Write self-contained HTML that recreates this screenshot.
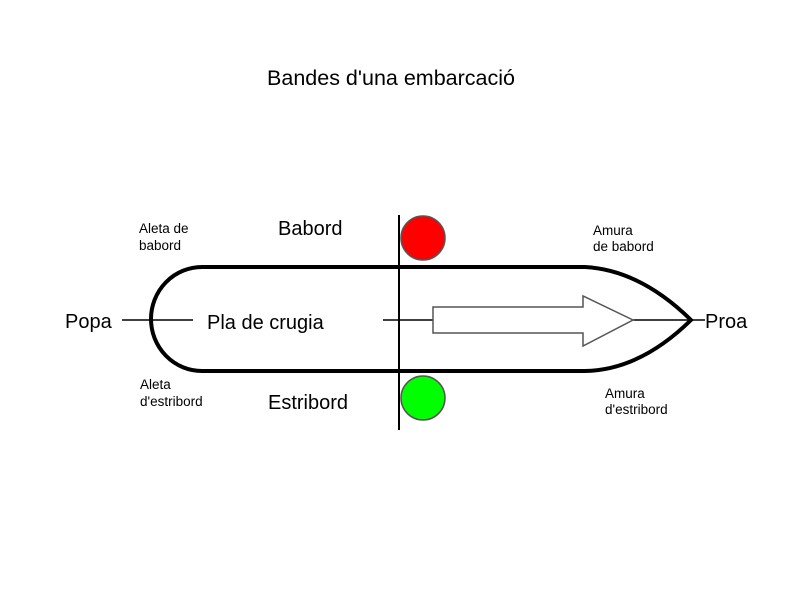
<!DOCTYPE html>
<html><head><style>
body{margin:0;background:#fff}
svg text{font-family:"Liberation Sans",Arial,sans-serif;fill:#000}
</style></head><body>
<svg width="800" height="600" viewBox="0 0 800 600" xmlns="http://www.w3.org/2000/svg">
<rect width="800" height="600" fill="#fff"/>
<text x="391" y="85" font-size="21.5" text-anchor="middle">Bandes d'una embarcació</text>
<path d="M202 267 L585 267 Q640 270 691 320 Q640 370 585 371 L202 371 A51 52 0 0 1 202 267 Z" fill="none" stroke="#000" stroke-width="4"/>
<line x1="399" y1="215" x2="399" y2="430" stroke="#000" stroke-width="2"/>
<circle cx="423" cy="238" r="22" fill="#f00" stroke="#555" stroke-width="1.5"/>
<circle cx="423" cy="398" r="22" fill="#0f0" stroke="#555" stroke-width="1.5"/>
<line x1="122" y1="320" x2="193" y2="320" stroke="#000" stroke-width="1.5"/>
<line x1="383" y1="320" x2="433" y2="320" stroke="#000" stroke-width="1.5"/>
<line x1="633" y1="320" x2="705" y2="320" stroke="#000" stroke-width="1.5"/>
<path d="M433 307 L583 307 L583 296 L633 320 L583 346 L583 333 L433 333 Z" fill="#fff" stroke="#555" stroke-width="1.5"/>
<text x="65" y="328" font-size="20">Popa</text>
<text x="705" y="328" font-size="20">Proa</text>
<text x="207" y="329" font-size="20">Pla de crugia</text>
<text x="278" y="235" font-size="20">Babord</text>
<text x="268" y="409" font-size="20">Estribord</text>
<text x="139" y="233" font-size="13.5">Aleta de</text>
<text x="139" y="250" font-size="13.5">babord</text>
<text x="140" y="389" font-size="13.5">Aleta</text>
<text x="140" y="406" font-size="13.5">d'estribord</text>
<text x="593" y="235" font-size="13.5">Amura</text>
<text x="593" y="251" font-size="13.5">de babord</text>
<text x="605" y="398" font-size="13.5">Amura</text>
<text x="605" y="414" font-size="13.5">d'estribord</text>
</svg>
</body></html>
